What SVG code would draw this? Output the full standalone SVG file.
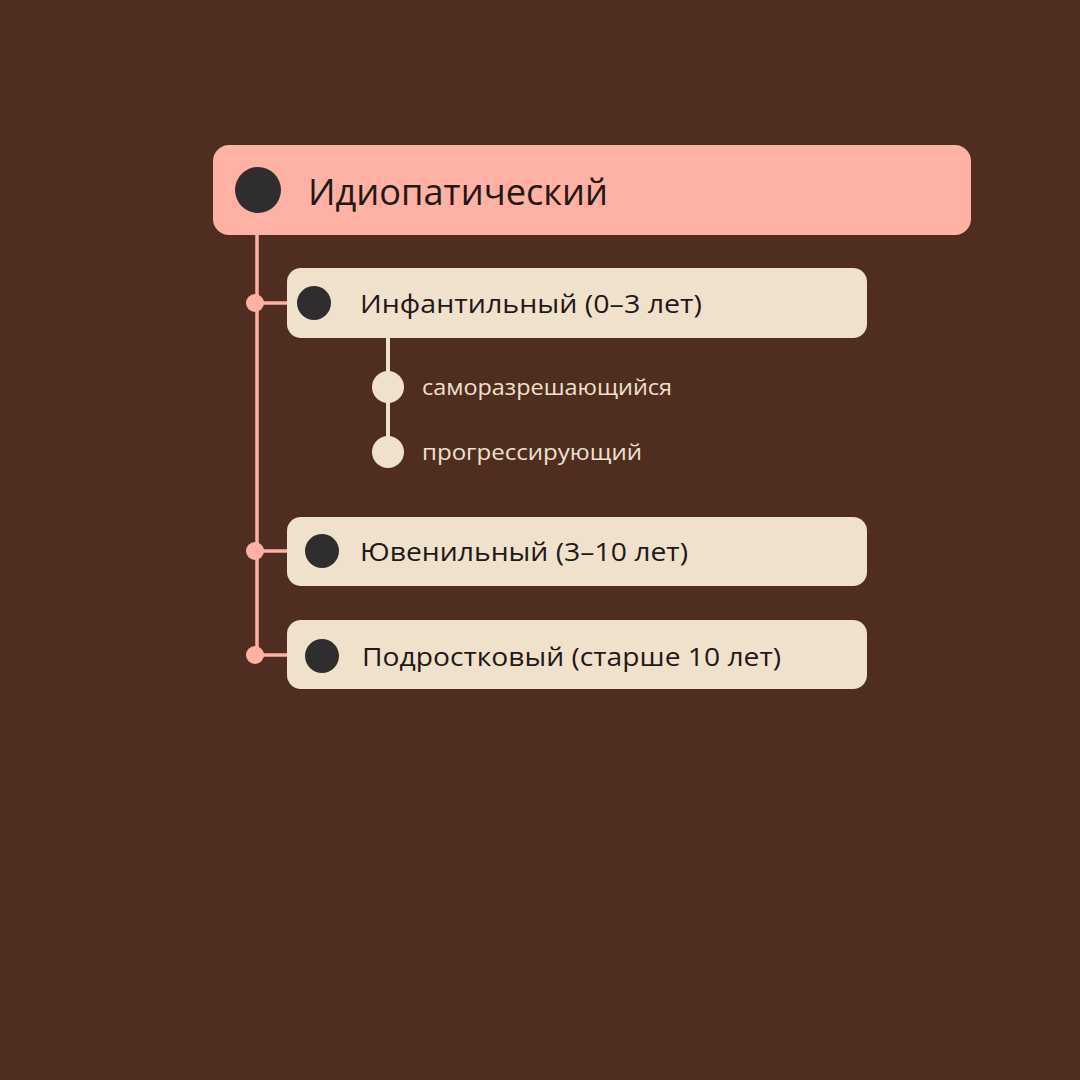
<svg xmlns="http://www.w3.org/2000/svg" width="1080" height="1080" viewBox="0 0 1080 1080">
<style>
.bg{fill:#4F2D20}
.main{fill:#FFB1A6}
.sub{fill:#F0E1CD}
.dot{fill:#2F2D2D}
.line{stroke:#FFB1A6;stroke-width:3.5;fill:none}
.cline{stroke:#F0E1CD;stroke-width:4;fill:none}
.jdot{fill:#FFB1A6}
.cdot{fill:#F0E1CD}
.t1{font-family:"Open Sans","Noto Sans",sans-serif;font-size:37px;fill:#231815}
.t2{font-family:"Open Sans","Noto Sans",sans-serif;font-size:26px;fill:#231815}
.t3{font-family:"Open Sans","Noto Sans",sans-serif;font-size:22px;fill:#F0E1CD}
</style>
<rect class="bg" x="0" y="0" width="1080" height="1080"/>
<g id="connectors">
<path class="line" d="M257 235 V655"/>
<path class="line" d="M255 303 H289"/>
<path class="line" d="M255 551 H289"/>
<path class="line" d="M255 655 H289"/>
<circle class="jdot" cx="255" cy="303" r="9"/>
<circle class="jdot" cx="255" cy="551" r="9"/>
<circle class="jdot" cx="255" cy="655" r="9"/>
<path class="cline" d="M388 336 V452"/>
</g>
<g id="node-root">
<rect class="main" x="213" y="145" width="758" height="90" rx="16"/>
<circle class="dot" cx="258" cy="190" r="23"/>
<text class="t1" x="308" y="205" textLength="300" lengthAdjust="spacingAndGlyphs">Идиопатический</text>
</g>
<g id="node-infant">
<rect class="sub" x="287" y="268" width="580" height="70" rx="14"/>
<circle class="dot" cx="314" cy="303" r="17"/>
<text class="t2" x="360" y="313" textLength="342" lengthAdjust="spacingAndGlyphs">Инфантильный (0–3 лет)</text>
</g>
<g id="node-self">
<circle class="cdot" cx="388" cy="387" r="16"/>
<text class="t3" x="422" y="395" textLength="250" lengthAdjust="spacingAndGlyphs">саморазрешающийся</text>
</g>
<g id="node-prog">
<circle class="cdot" cx="388" cy="452" r="16"/>
<text class="t3" x="422" y="460" textLength="220" lengthAdjust="spacingAndGlyphs">прогрессирующий</text>
</g>
<g id="node-juvenile">
<rect class="sub" x="287" y="517" width="580" height="69" rx="14"/>
<circle class="dot" cx="322" cy="551" r="17"/>
<text class="t2" x="360" y="561" textLength="328" lengthAdjust="spacingAndGlyphs">Ювенильный (3–10 лет)</text>
</g>
<g id="node-teen">
<rect class="sub" x="287" y="620" width="580" height="69" rx="14"/>
<circle class="dot" cx="322" cy="656" r="17"/>
<text class="t2" x="362" y="666" textLength="419" lengthAdjust="spacingAndGlyphs">Подростковый (старше 10 лет)</text>
</g>
</svg>
